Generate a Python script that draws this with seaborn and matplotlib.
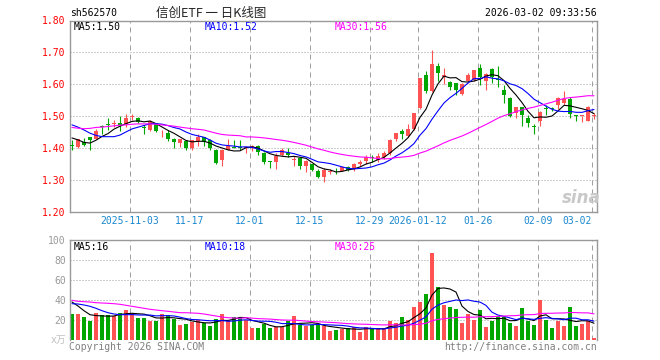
import numpy as np
import pandas as pd
import matplotlib
matplotlib.use('Agg')
import matplotlib.pyplot as plt
import seaborn as sns

# daily candles, 2025-10-20 .. 2026-03-02 (88 trading days)
open_ = [1.408, 1.405, 1.418, 1.434, 1.430, 1.470, 1.474, 1.477, 1.480, 1.476,
         1.497, 1.495, 1.465, 1.457, 1.478, 1.446, 1.449, 1.430, 1.416, 1.422,
         1.399, 1.424, 1.434, 1.426, 1.393, 1.364, 1.395, 1.404, 1.404, 1.399,
         1.403, 1.407, 1.386, 1.359, 1.357, 1.378, 1.384, 1.364, 1.368, 1.343,
         1.349, 1.330, 1.311, 1.325, 1.329, 1.330, 1.341, 1.336, 1.349, 1.359,
         1.371, 1.364, 1.372, 1.384, 1.430, 1.455, 1.439, 1.461, 1.526, 1.628,
         1.580, 1.657, 1.622, 1.607, 1.603, 1.570, 1.611, 1.614, 1.651, 1.611,
         1.647, 1.617, 1.582, 1.557, 1.509, 1.528, 1.495, 1.467, 1.484, 1.525,
         1.525, 1.536, 1.541, 1.553, 1.502, 1.500, 1.486, 1.502]
high = [1.426, 1.428, 1.431, 1.436, 1.459, 1.473, 1.494, 1.489, 1.501, 1.507,
        1.507, 1.497, 1.474, 1.489, 1.480, 1.457, 1.457, 1.432, 1.430, 1.424,
        1.426, 1.445, 1.436, 1.428, 1.397, 1.397, 1.428, 1.426, 1.426, 1.407,
        1.409, 1.409, 1.389, 1.361, 1.384, 1.401, 1.399, 1.374, 1.372, 1.364,
        1.351, 1.334, 1.339, 1.336, 1.338, 1.345, 1.345, 1.353, 1.364, 1.378,
        1.378, 1.384, 1.391, 1.430, 1.449, 1.461, 1.476, 1.509, 1.620, 1.641,
        1.707, 1.666, 1.651, 1.611, 1.605, 1.603, 1.634, 1.645, 1.664, 1.636,
        1.651, 1.659, 1.597, 1.559, 1.530, 1.530, 1.505, 1.476, 1.518, 1.534,
        1.530, 1.561, 1.578, 1.559, 1.503, 1.501, 1.532, 1.509]
low = [1.395, 1.399, 1.407, 1.393, 1.428, 1.445, 1.458, 1.466, 1.455, 1.466,
       1.489, 1.478, 1.443, 1.455, 1.451, 1.434, 1.424, 1.399, 1.405, 1.393,
       1.393, 1.407, 1.407, 1.395, 1.349, 1.345, 1.395, 1.399, 1.395, 1.384,
       1.391, 1.380, 1.351, 1.339, 1.336, 1.374, 1.372, 1.345, 1.336, 1.326,
       1.330, 1.305, 1.295, 1.320, 1.320, 1.328, 1.330, 1.330, 1.343, 1.351,
       1.357, 1.357, 1.366, 1.380, 1.422, 1.430, 1.434, 1.457, 1.522, 1.572,
       1.576, 1.611, 1.601, 1.582, 1.566, 1.568, 1.605, 1.609, 1.597, 1.582,
       1.603, 1.593, 1.543, 1.497, 1.493, 1.470, 1.466, 1.443, 1.470, 1.503,
       1.516, 1.524, 1.536, 1.493, 1.484, 1.482, 1.484, 1.491]
close = [1.406, 1.428, 1.409, 1.426, 1.455, 1.466, 1.472, 1.479, 1.472, 1.495,
         1.501, 1.482, 1.463, 1.484, 1.455, 1.448, 1.428, 1.418, 1.428, 1.399,
         1.426, 1.436, 1.420, 1.399, 1.353, 1.395, 1.407, 1.402, 1.401, 1.403,
         1.407, 1.389, 1.357, 1.357, 1.376, 1.395, 1.378, 1.366, 1.343, 1.359,
         1.332, 1.309, 1.332, 1.327, 1.327, 1.341, 1.332, 1.349, 1.357, 1.372,
         1.369, 1.374, 1.384, 1.426, 1.449, 1.443, 1.461, 1.509, 1.620, 1.578,
         1.664, 1.636, 1.630, 1.593, 1.582, 1.601, 1.630, 1.645, 1.622, 1.632,
         1.622, 1.614, 1.568, 1.501, 1.528, 1.503, 1.478, 1.466, 1.514, 1.523,
         1.523, 1.557, 1.553, 1.507, 1.500, 1.501, 1.530, 1.503]
# volume, 万手
volume = [26.3, 26.3, 23.0, 19.3, 27.3, 24.7, 24.7, 24.0, 27.3, 30.3,
          27.3, 22.3, 22.3, 19.3, 19.3, 26.3, 25.0, 21.0, 15.3, 16.3,
          18.0, 19.7, 17.0, 14.3, 21.0, 26.3, 19.0, 23.3, 23.3, 20.0,
          12.3, 12.3, 16.3, 12.3, 12.7, 12.7, 19.0, 24.0, 14.7, 14.0,
          14.7, 15.3, 14.3, 9.3, 10.0, 10.7, 12.0, 12.7, 8.3, 12.7,
          10.7, 12.0, 12.0, 19.3, 17.0, 23.3, 19.7, 33.0, 38.3, 46.3,
          87.3, 53.0, 35.3, 33.0, 31.0, 17.3, 26.0, 20.0, 30.0, 13.0,
          19.3, 24.0, 22.7, 17.3, 14.0, 32.0, 19.0, 15.0, 40.0, 20.0,
          12.0, 19.3, 14.0, 33.0, 14.0, 16.0, 18.7, 2.0]

# moving-average values before the window fills (depend on days off the chart)
ma5_lead = [1.432, 1.426, 1.418, 1.416]
ma10_lead = [1.473, 1.466, 1.457, 1.447, 1.440, 1.436, 1.436, 1.436, 1.441]
ma30_lead = [1.465, 1.4625, 1.461, 1.462, 1.465, 1.466, 1.468, 1.470, 1.472, 1.473,
             1.475, 1.476, 1.476, 1.476, 1.475, 1.473, 1.471, 1.469, 1.466, 1.4635,
             1.461, 1.459, 1.457, 1.452, 1.447, 1.443, 1.441, 1.440, 1.439]
vma5_lead = [38.0, 34.0, 29.3, 25.3]
vma10_lead = [36.3, 36.0, 35.0, 33.7, 31.7, 29.3, 27.3, 26.0, 25.3]
vma30_lead = [39.7, 38.7, 38.3, 38.0, 37.3, 37.0, 36.7, 36.3, 35.7, 34.7,
              33.7, 32.7, 31.7, 30.7, 30.0, 29.3, 28.7, 28.0, 27.3, 27.3,
              27.0, 26.7, 26.0, 25.0, 24.0, 23.0, 22.3, 22.0, 21.7]

date_labels = ['2025-11-03', '11-17', '12-01', '12-15', '12-29',
               '2026-01-12', '01-26', '02-09', '03-02']
date_index = [10, 20, 30, 40, 50, 58, 68, 78, 87]
price_ticks = [1.20, 1.30, 1.40, 1.50, 1.60, 1.70, 1.80]
vol_ticks = [20, 40, 60, 80, 100]


def moving(values, n, lead):
    m = pd.Series(values).rolling(n).mean().to_numpy()
    m[:n - 1] = lead
    return m


RED = '#ff5252'
GREEN = '#00a600'
GRID = '#a0a0a0'
MONO = 'DejaVu Sans Mono'

sns.set_style('white')
plt.rcParams['font.family'] = [MONO, 'Noto Sans CJK SC']

o = np.array(open_)
c = np.array(close)
idx = np.arange(len(c))
cols = np.where(c >= o, RED, GREEN)

fig = plt.figure(figsize=(6.6, 3.6), dpi=100)
W, H = 660, 360
ax = fig.add_axes([70 / W, 1 - 212 / H, 527 / W, 191.5 / H])
axv = fig.add_axes([70 / W, 1 - 340 / H, 527 / W, 100 / H])

grid_x = [d - 0.33 for d in date_index]
for a in (ax, axv):
    a.set_xlim(-0.33, 87.5)
    for gx in grid_x:
        a.axvline(gx, color=GRID, lw=0.72, ls=(0, (5, 4)), zorder=0)
    for s in a.spines.values():
        s.set_color('#999999')
        s.set_linewidth(1)
    a.set_xticks([])
axv.spines['bottom'].set_visible(False)

# price panel
ax.set_ylim(1.20, 1.80)
for p in price_ticks[1:-1]:
    ax.axhline(p, color=GRID, lw=0.72, ls=(0, (1, 2)), zorder=0)
ax.vlines(idx, low, high, colors=cols, lw=0.8, zorder=2)
ax.bar(idx, np.maximum(np.abs(c - o), 0.003), bottom=np.minimum(o, c),
       width=0.8, color=cols, lw=0, zorder=3)
sns.lineplot(x=idx, y=moving(close, 5, ma5_lead), ax=ax, color='black', lw=0.8, zorder=4)
sns.lineplot(x=idx, y=moving(close, 10, ma10_lead), ax=ax, color='#0000ff', lw=0.8, zorder=4)
sns.lineplot(x=idx, y=moving(close, 30, ma30_lead), ax=ax, color='#ff00ff', lw=0.8, zorder=4)
ax.set_yticks(price_ticks)
ax.set_yticklabels(['%.2f' % p for p in price_ticks])
ax.tick_params(axis='y', length=0, pad=3, labelsize=7, labelcolor='#ff0000')

for d, lab in zip(grid_x, date_labels):
    ha = 'right' if lab == date_labels[-1] else 'center'
    ax.text(d, -0.047, lab, transform=ax.get_xaxis_transform(), ha=ha, va='center',
            fontsize=7, color='#1a88d0', family=MONO)

# volume panel
axv.set_ylim(0, 100)
for v in vol_ticks[:-1]:
    axv.axhline(v, color=GRID, lw=0.72, ls=(0, (1, 2)), zorder=0)
axv.bar(idx, volume, width=0.8, color=cols, lw=0, zorder=2)
sns.lineplot(x=idx, y=moving(volume, 5, vma5_lead), ax=axv, color='black', lw=0.8, zorder=4)
sns.lineplot(x=idx, y=moving(volume, 10, vma10_lead), ax=axv, color='#0000ff', lw=0.8, zorder=4)
sns.lineplot(x=idx, y=moving(volume, 30, vma30_lead), ax=axv, color='#ff00ff', lw=0.8, zorder=4)
axv.set_yticks(vol_ticks)
axv.set_yticklabels([str(v) for v in vol_ticks])
axv.tick_params(axis='y', length=0, pad=3, labelsize=7, labelcolor='#999999')
for a in (ax, axv):
    a.set_xlabel('')
    a.set_ylabel('')

# texts
def ftext(x, y, s, **kw):
    kw.setdefault('fontsize', 7)
    kw.setdefault('va', 'center')
    fig.text(x / W, 1 - y / H, s, **kw)

ftext(70, 13.5, 'sh562570', color='black')
ftext(211, 13, '信创ETF 一 日K线图', ha='center', fontsize=9,
      family=['Noto Sans CJK SC', 'DejaVu Sans'])
ftext(597, 13.5, '2026-03-02 09:33:56', ha='right', color='black')
ftext(74, 26.5, 'MA5:1.50', color='black')
ftext(205, 26.5, 'MA10:1.52', color='#0000ff')
ftext(335, 26.5, 'MA30:1.56', color='#ff00ff')
ftext(74, 246.5, 'MA5:16', color='black')
ftext(205, 246.5, 'MA10:18', color='#0000ff')
ftext(335, 246.5, 'MA30:25', color='#ff00ff')
ftext(66, 340, 'x万', ha='right', color='#c0c0c0',
      family=[MONO, 'Noto Sans CJK SC'])
ftext(69, 346.5, 'Copyright 2026 SINA.COM', color='#808080')
ftext(597, 346.5, 'http://finance.sina.com.cn', ha='right', color='#808080')
ftext(581, 198, 'sina', ha='center', fontsize=12, color='#c8c8c8',
      style='italic', weight='bold', family='DejaVu Sans')

fig.savefig('out.png', dpi=100)
